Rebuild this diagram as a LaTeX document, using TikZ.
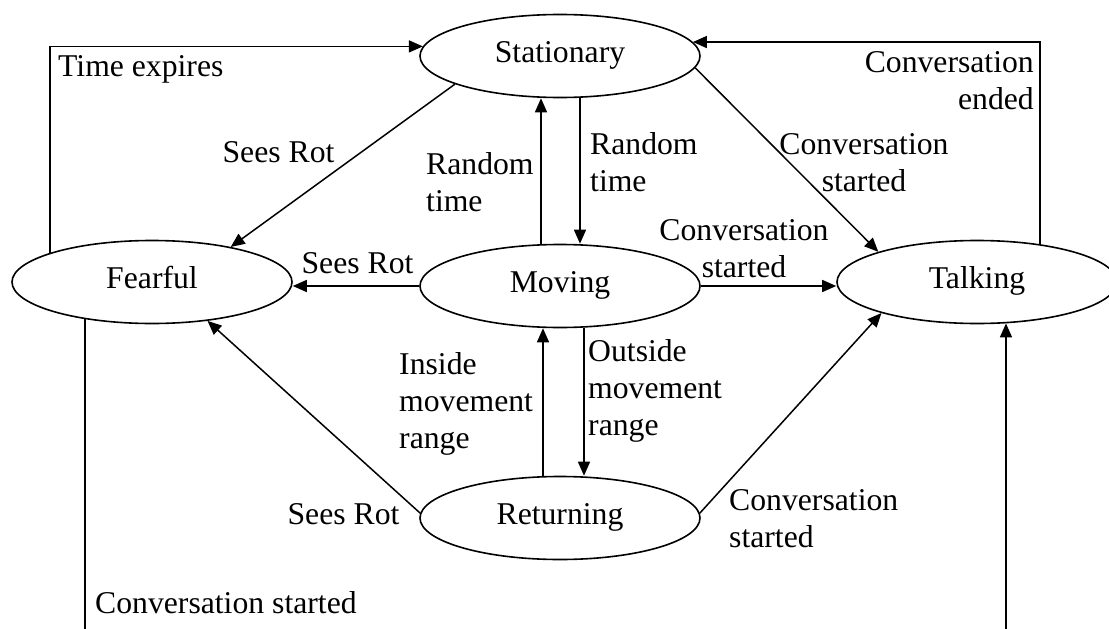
\documentclass[tikz,border=0pt]{standalone}
\usepackage{fontspec}
\setmainfont{Liberation Serif}
\usetikzlibrary{arrows.meta,shapes.geometric}
\begin{document}
\begin{tikzpicture}[x=1pt,y=-1pt,
  every node/.style={font=\fontsize{31.7}{37}\selectfont},
  state/.style={ellipse, draw, line width=1.6pt, fill=white,
    minimum width=280pt, minimum height=83pt, inner sep=0pt,
    text height=20pt, text depth=7pt},
  edge/.style={line width=1.5pt, -{Triangle[length=14pt,width=12pt]}},
  plain/.style={line width=1.5pt},
  lbl/.style={inner sep=0pt, align=left}]
% page
\fill[white] (0,0) rectangle (1109,629);
\useasboundingbox (0,0) rectangle (1109,629);

% states
\node[state] (Stationary) at (560,56)  {Stationary};
\node[state] (Fearful)    at (152,282) {Fearful};
\node[state] (Moving)     at (560,286) {Moving};
\node[state] (Talking)    at (977,282) {Talking};
\node[state] (Returning)  at (560,518) {Returning};

% lines leaving the lower edge
\coordinate (botL) at (86,629);
\coordinate (botR) at (1005,629);

% transitions
\draw[edge] (Fearful.164) |- (Stationary.176);
\draw[edge] (Talking.31) |- (Stationary.6);
\draw[edge] (Stationary.195) -- (Fearful.24);
\draw[edge] (Moving.west) -- (Moving.west -| Fearful.east);
\draw[edge] (Moving.east) -- (Moving.east -| Talking.west);
\draw[edge] (Stationary.355) -- (Talking.163);
\draw[edge] ([xshift=-19pt]Moving.north) -- ([xshift=-19pt]Stationary.south);
\draw[edge] ([xshift=20pt]Stationary.south) -- ([xshift=20pt]Moving.north);
\draw[edge] ([xshift=-17pt]Returning.north) -- ([xshift=-17pt]Moving.south);
\draw[edge] ([xshift=24pt]Moving.south) -- ([xshift=24pt]Returning.north);
\draw[edge] (Returning.178) -- (Fearful.325);
\draw[edge] (Returning.2) -- (Talking.198);
\draw[plain] (Fearful.209) -- (Fearful.209 |- botL);
\draw[edge] (Talking.305 |- botR) -- (Talking.305);

% transition labels
\node[lbl,anchor=west] (lTime) at (58,68.6) {\strut Time expires};
\node[lbl,anchor=east,align=right] (lEnded) at (1034,83.6) {\strut Conversation\\\strut ended};
\node[lbl] (lSeesA) at (278.5,154.6) {\strut Sees Rot};
\node[lbl] (lSeesB) at (357.5,265.6) {\strut Sees Rot};
\node[lbl] (lSeesC) at (343.5,516.6) {\strut Sees Rot};
\node[lbl,anchor=west] (lRandA) at (426,185.1) {\strut Random\\\strut time};
\node[lbl,anchor=west] (lRandB) at (590,165.6) {\strut Random\\\strut time};
\node[lbl,align=center] (lConvA) at (864,165.6) {\strut Conversation\\\strut started};
\node[lbl,align=center] (lConvB) at (744,251.6) {\strut Conversation\\\strut started};
\node[lbl,anchor=west] (lConvC) at (729,521.6) {\strut Conversation\\\strut started};
\node[lbl,anchor=west] (lInside) at (399,403.6) {\strut Inside\\\strut movement\\\strut range};
\node[lbl,anchor=west] (lOutside) at (588,390.6) {\strut Outside\\\strut movement\\\strut range};
\node[lbl,anchor=west] (lConvD) at (95,605.6) {\strut Conversation started};
\end{tikzpicture}
\end{document}
